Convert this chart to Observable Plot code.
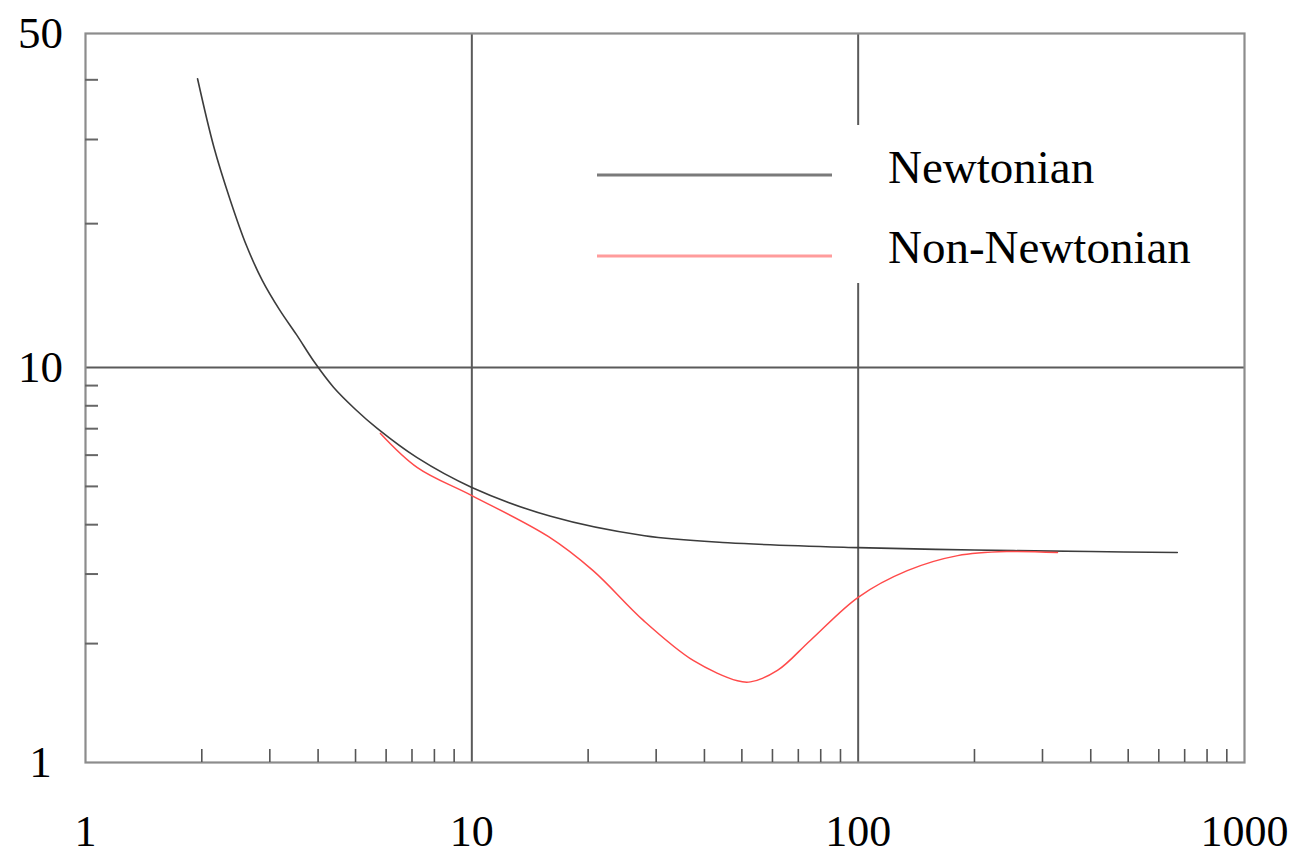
<!DOCTYPE html>
<html>
<head>
<meta charset="utf-8">
<script src="https://cdn.jsdelivr.net/npm/d3@7"></script>
<script src="https://cdn.jsdelivr.net/npm/@observablehq/plot@0.6"></script>
<style>
  html, body { margin: 0; padding: 0; background: #fff; }
  #chart { width: 1294px; height: 856px; }
</style>
</head>
<body>
<div id="chart"></div>
<script>
// ---- data ----
const newtonianX = [1.95, 2.15, 2.37, 2.61, 2.87, 3.18, 3.52, 3.92, 4.39, 5.0, 5.7, 7.2, 10, 16, 28, 46, 100, 200, 400, 670];
const newtonianY = [40.2, 28.9, 22.4, 18.0, 15.2, 13.2, 11.7, 10.24, 8.9, 7.83, 7.0, 5.92, 4.97, 4.2, 3.75, 3.6, 3.5, 3.45, 3.42, 3.4];

const nonNewtonianX = [5.8, 7.23, 10, 15.8, 20.6, 27.8, 37.5, 48.7, 52.6, 61.8, 75.3, 100, 134, 181, 244, 328];
const nonNewtonianY = [6.81, 5.58, 4.74, 3.73, 3.06, 2.29, 1.81, 1.61, 1.6, 1.71, 2.04, 2.62, 3.06, 3.34, 3.42, 3.4];

const xTickLabels = [1, 10, 100, 1000];
const yTickLabels = [1, 10, 50];
const xMinorTicks = [2,3,4,5,6,7,8,9,20,30,40,50,60,70,80,90,200,300,400,500,600,700,800,900];
const yMinorTicks = [2,3,4,5,6,7,8,9,20,30,40];
const xGrid = [10, 100];
const yGrid = [10];
const seriesNames = ["Newtonian", "Non-Newtonian"];
const seriesColors = ["#3c3c3c", "#ff4a4a"];
const legendColors = ["#7a7a7a", "#ff9c9c"];

const newtonian = newtonianX.map((x, i) => ({x, y: newtonianY[i]}));
const nonNewtonian = nonNewtonianX.map((x, i) => ({x, y: nonNewtonianY[i]}));

const font = "'Liberation Serif', 'Times New Roman', serif";

const chart = Plot.plot({
  width: 1294,
  height: 856,
  marginLeft: 85,
  marginRight: 50,
  marginTop: 33,
  marginBottom: 94,
  style: {background: "#fff", fontFamily: font, color: "#000"},
  x: {type: "log", domain: [1, 1000]},
  y: {type: "log", domain: [1, 10, 50], range: [762, 367, 33]},
  marks: [
    Plot.ruleX(xGrid, {stroke: "#5a5a5a", strokeWidth: 2}),
    Plot.ruleY(yGrid, {stroke: "#5a5a5a", strokeWidth: 2}),
    Plot.frame({stroke: "#8c8c8c", strokeWidth: 2.2}),
    Plot.axisX(xMinorTicks, {anchor: "bottom", tickSize: -13, fill: "none", stroke: "#555", strokeWidth: 1.6, label: null}),
    Plot.axisY(yMinorTicks, {anchor: "left", tickSize: -13, fill: "none", stroke: "#666", strokeWidth: 2, label: null}),
    Plot.axisX(xTickLabels, {anchor: "bottom", tickSize: 0, tickPadding: 52, fontSize: 44, fontFamily: font, fill: "#000", label: null, tickFormat: d => String(d)}),
    Plot.axisY(yTickLabels, {anchor: "left", tickSize: 0, tickPadding: 45, textAnchor: "middle", fontSize: 45, fontFamily: font, fill: "#000", label: null, tickFormat: d => String(d)}),
    Plot.line(newtonian, {x: "x", y: "y", stroke: seriesColors[0], strokeWidth: 1.6, curve: "catmull-rom"}),
    Plot.line(nonNewtonian, {x: "x", y: "y", stroke: seriesColors[1], strokeWidth: 1.5, curve: "catmull-rom"})
  ]
});

document.getElementById("chart").appendChild(chart);

// ---- legend (inside the plot, white box hiding the grid line) ----
const svg = d3.select(chart);
const lg = svg.append("g").attr("class", "legend").attr("text-anchor", "start");
lg.append("rect").attr("x", 585).attr("y", 125).attr("width", 650).attr("height", 158).attr("fill", "#fff");
const rows = [{y: 175, base: 183}, {y: 256, base: 263}];
seriesNames.forEach((name, i) => {
  lg.append("line")
    .attr("x1", 597).attr("x2", 832)
    .attr("y1", rows[i].y).attr("y2", rows[i].y)
    .attr("stroke", legendColors[i]).attr("stroke-width", 3);
  lg.append("text")
    .attr("x", 888).attr("y", rows[i].base)
    .attr("text-anchor", "start")
    .attr("font-family", font).attr("font-size", 47)
    .attr("fill", "#000")
    .text(name);
});
</script>
</body>
</html>
